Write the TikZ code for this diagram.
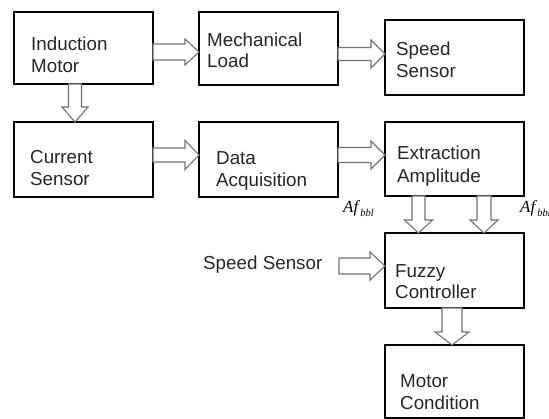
\documentclass[tikz,border=0pt]{standalone}
\usepackage{fontspec}
\setmainfont{Liberation Sans}
\newfontfamily\serifit{Liberation Serif}
\begin{document}
\begin{tikzpicture}[x=1pt,y=-1pt,
  box/.style={draw=black,line width=1.8pt,inner sep=0pt},
  txt/.style={anchor=base west,inner sep=0pt,font=\fontsize{18.8}{22}\selectfont,text=black!85},
  lbl/.style={anchor=base west,inner sep=0pt,font=\serifit\fontsize{17}{19}\selectfont},
  arr/.style={draw=black!55,line width=1.1pt,fill=white,line join=miter}]
\useasboundingbox (0,0) rectangle (549,419);
\newcommand{\boxat}[5]{\node[box,minimum width={#4-#2},minimum height={#5-#3}] (#1) at ({(#2+#4)/2},{(#3+#5)/2}) {};}
\newcommand{\rarrow}[6]{\draw[arr] ({#1},{#3-#4}) -- ({#2-#6},{#3-#4}) -- ({#2-#6},{#3-#5}) -- ({#2},{#3}) -- ({#2-#6},{#3+#5}) -- ({#2-#6},{#3+#4}) -- ({#1},{#3+#4}) -- cycle;}
\newcommand{\darrow}[6]{\draw[arr] ({#3-#4},{#1}) -- ({#3-#4},{#2-#6}) -- ({#3-#5},{#2-#6}) -- ({#3},{#2}) -- ({#3+#5},{#2-#6}) -- ({#3+#4},{#2-#6}) -- ({#3+#4},{#1}) -- cycle;}
% boxes
\boxat{im}{14}{12}{153}{84}
\boxat{ml}{199}{12}{338}{85}
\boxat{ss}{385}{20}{524}{95}
\boxat{cs}{14}{122}{153}{197}
\boxat{da}{199}{122}{338}{197}
\boxat{ea}{385}{122}{524}{196}
\boxat{fc}{385}{233}{524}{308}
\boxat{mc}{385}{345}{524}{418}
% texts
\node[txt] (t1) at (31,51) {Induction};
\node[txt] (t1b) at (31,73) {Motor};
\node[txt] (t2) at (207,47) {Mechanical};
\node[txt] (t2b) at (207,68) {Load};
\node[txt] (t3) at (396,56) {Speed};
\node[txt] (t3b) at (396,78) {Sensor};
\node[txt] (t4) at (30,164) {Current};
\node[txt] (t4b) at (30,186) {Sensor};
\node[txt] (t5) at (216,165) {Data};
\node[txt] (t5b) at (216,187) {Acquisition};
\node[txt] (t6) at (397,160) {Extraction};
\node[txt] (t6b) at (397,183) {Amplitude};
\node[txt] (t7) at (395,278) {Fuzzy};
\node[txt] (t7b) at (395,299) {Controller};
\node[txt] (t8) at (400,388) {Motor};
\node[txt] (t8b) at (400,410) {Condition};
\node[txt] (sp) at (203,270) {Speed Sensor};
\node[lbl] (l1) at (343,213) {\textit{Af}\raisebox{-4pt}{\fontsize{10.5}{12}\selectfont\textit{bbl}}};
\node[lbl] (l2) at (520,213) {\textit{Af}\raisebox{-4pt}{\fontsize{10.5}{12}\selectfont\textit{bbh}}};
% arrows
\rarrow{153}{199}{52}{8}{13}{14}
\rarrow{338}{385}{54}{6.5}{14}{14}
\darrow{84}{122}{75}{6.5}{13}{15}
\rarrow{153}{199}{155}{7}{14.5}{14}
\rarrow{338}{385}{155}{7.5}{14}{14}
\darrow{196}{233}{418.5}{6.5}{14}{13}
\darrow{196}{233}{484}{7}{14}{13}
\rarrow{339}{385}{266}{8}{14}{15}
\darrow{308}{345}{452}{10}{17}{13}
\end{tikzpicture}
\end{document}
